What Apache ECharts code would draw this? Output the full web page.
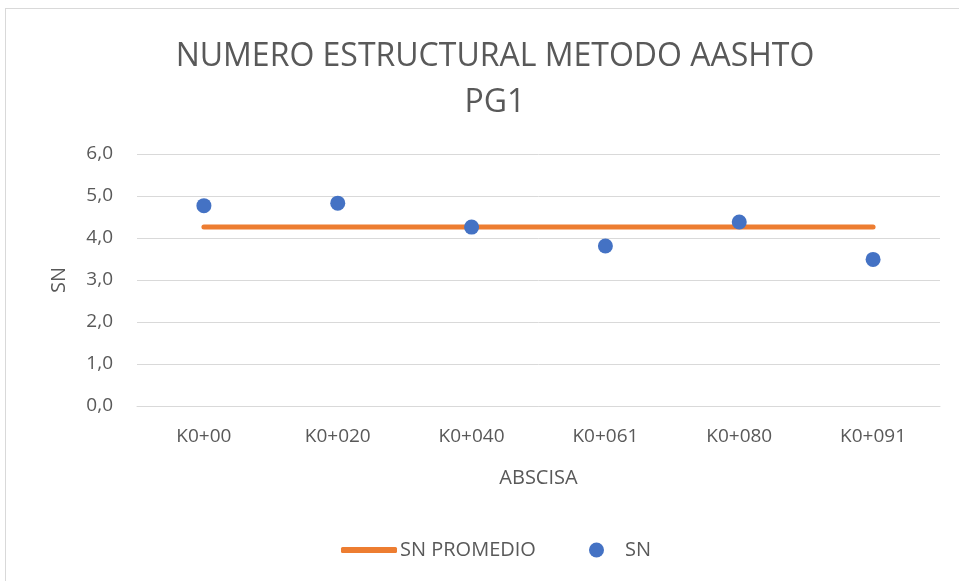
<!DOCTYPE html>
<html>
<head>
<meta charset="utf-8">
<script src="https://cdn.jsdelivr.net/npm/echarts@6/dist/echarts.min.js"></script>
<style>
  html, body { margin: 0; padding: 0; background: #fff; }
  #frame { position: absolute; left: 5px; top: 8px; width: 960px; height: 580px; border: 1px solid #d9d9d9; box-sizing: border-box; }
  #main { position: absolute; left: 0; top: 0; width: 959px; height: 581px; }
</style>
</head>
<body>
<div id="frame"></div>
<div id="main"></div>
<script>
// categories (abscisas) and values
var abscisas = ['K0+00', 'K0+020', 'K0+040', 'K0+061', 'K0+080', 'K0+091'];
var sn = [4.77, 4.83, 4.26, 3.81, 4.38, 3.49];
var snPromedio = [4.26, 4.26, 4.26, 4.26, 4.26, 4.26];

var gris = '#595959';
var fuente = '"Open Sans", sans-serif';

var myChart = echarts.init(document.getElementById('main'));
var option = {
    animation: false,
    title: {
        text: 'NUMERO ESTRUCTURAL METODO AASHTO\nPG1',
        left: 490,
        textAlign: 'center',
        top: 29,
        textStyle: { color: gris, fontFamily: fuente, fontWeight: 'normal', fontSize: 32, lineHeight: 46 }
    },
    grid: { left: 137, right: 19, top: 154, bottom: 175 },
    legend: [
        {
            data: [{ name: 'SN PROMEDIO', icon: 'roundRect' }],
            left: 336, top: 535,
            itemWidth: 56, itemHeight: 6,
            textStyle: { color: gris, fontFamily: fuente, fontSize: 20, padding: [0, 0, 0, -2] }
        },
        {
            data: [{ name: 'SN', icon: 'circle' }],
            left: 584, top: 535,
            itemWidth: 15, itemHeight: 15,
            textStyle: { color: gris, fontFamily: fuente, fontSize: 20, padding: [0, 0, 0, 16] }
        }
    ],
    xAxis: {
        type: 'category',
        data: abscisas,
        boundaryGap: true,
        name: 'ABSCISA',
        nameLocation: 'middle',
        nameGap: 62,
        nameTextStyle: { color: gris, fontFamily: fuente, fontSize: 20 },
        axisLine: { lineStyle: { color: '#d9d9d9', width: 1 } },
        axisTick: { show: false },
        axisLabel: { color: gris, fontFamily: fuente, fontSize: 19, margin: 21 }
    },
    yAxis: {
        type: 'value',
        min: 0, max: 6, interval: 1,
        name: 'SN',
        nameLocation: 'middle',
        nameGap: 68,
        nameTextStyle: { color: gris, fontFamily: fuente, fontSize: 20 },
        axisLine: { show: false },
        axisTick: { show: false },
        axisLabel: {
            color: gris, fontFamily: fuente, fontSize: 19, margin: 24,
            formatter: function (v) { return v.toFixed(1).replace('.', ','); }
        },
        splitLine: { lineStyle: { color: '#d9d9d9', width: 1 } }
    },
    series: [
        {
            name: 'SN PROMEDIO',
            type: 'line',
            data: snPromedio,
            symbol: 'none',
            itemStyle: { color: '#ED7D31' },
            lineStyle: { color: '#ED7D31', width: 5, cap: 'round' },
            z: 2
        },
        {
            name: 'SN',
            type: 'scatter',
            data: sn,
            symbol: 'circle',
            symbolSize: 15,
            itemStyle: { color: '#4472C4', opacity: 1 },
            z: 3
        }
    ]
};
myChart.setOption(option);
</script>
</body>
</html>
